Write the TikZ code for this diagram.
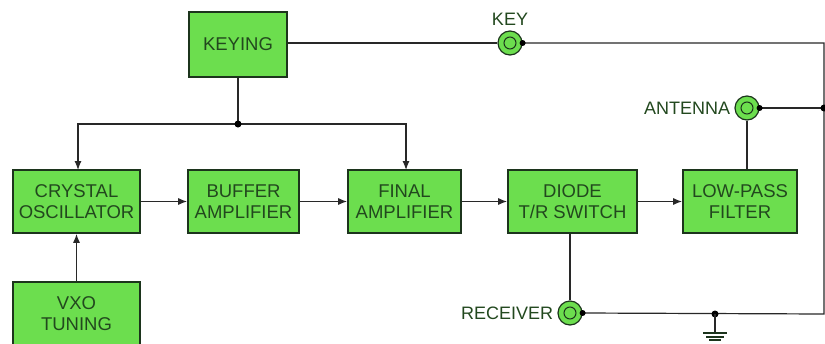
\documentclass[tikz,border=0pt]{standalone}
\usepackage{fontspec}
\setmainfont{Liberation Sans}
\usetikzlibrary{arrows.meta}
\definecolor{boxgreen}{RGB}{108,222,78}
\definecolor{edgegreen}{RGB}{28,52,28}
\definecolor{txtgreen}{RGB}{34,72,30}
\definecolor{wire}{RGB}{40,40,40}
\begin{document}
\begin{tikzpicture}[x=1pt,y=-1pt,
	bloc/.style={draw=edgegreen,line width=1.6pt,fill=boxgreen,text=txtgreen,align=center,
		font=\fontsize{18.5}{21}\selectfont,inner sep=0pt,minimum height=63pt},
	jack/.style={circle,draw=edgegreen,line width=1.2pt,fill=boxgreen,minimum size=24pt,inner sep=0pt,
		path picture={\draw[edgegreen,line width=1pt] (path picture bounding box.center) circle (6pt);}},
	lbl/.style={text=txtgreen,font=\fontsize{18}{21}\selectfont,inner sep=0pt},
	fil/.style={wire,line width=1.2pt},
	fl/.style={fil,-{Latex[length=9pt,width=7pt]}}]
	\useasboundingbox (0,0) rectangle (825,343);
	\def \xd {824}%ligne de droite
	\def \ym {314}%ligne de masse
	% blocs
	\node[bloc,minimum width=98pt,minimum height=65pt] (keying) at (238,44.5) {KEYING};
	\node[bloc,minimum width=127pt] (xtal) at (76.5,201.5) {CRYSTAL\\OSCILLATOR};
	\node[bloc,minimum width=111pt] (buffer) at (243.5,201.5) {BUFFER\\AMPLIFIER};
	\node[bloc,minimum width=113pt] (final) at (404.5,201.5) {FINAL\\AMPLIFIER};
	\node[bloc,minimum width=129pt] (diode) at (572.5,201.5) {DIODE\\T/R SWITCH};
	\node[bloc,minimum width=114pt] (lpf) at (740,201.5) {LOW-PASS\\FILTER};
	\node[bloc,minimum width=127pt] (vxo) at (76.5,313.5) {VXO\\TUNING};
	% prises
	\node[jack] (key) at (510,43) {};
	\node[jack] (ant) at (747,108) {};
	\node[jack] (recv) at (570,313) {};
	\node[lbl,above=5pt] at (key.north) {KEY};
	\node[lbl,left=4pt] at (ant.west) {ANTENNA};
	\node[lbl,left=4pt] at (recv.west) {RECEIVER};
	\coordinate (kj) at (238,124);
	\coordinate (gnd) at (715,\ym);
	% liaisons
	\draw[fl] (xtal) -- (buffer);
	\draw[fl] (buffer) -- (final);
	\draw[fl] (final) -- (diode);
	\draw[fl] (diode) -- (lpf);
	\draw[fl] (vxo) -- (xtal);
	\draw[fil] (keying) -- (kj);
	\draw[fl] (kj) -| (78,170);
	\draw[fl] (kj) -| (406,170);
	\fill[black] (kj) circle (3.5pt);
	\draw[fil] (keying.east |- key) -- (key.west);
	\draw[fil] (key.east) -- (\xd,43) -- (\xd,\ym) -- (recv.east);
	\draw[fil] (ant.east) -- (\xd,108);
	\fill[black] (\xd,108) circle (3.5pt);
	\draw[fil] (ant.south) -- (ant.south |- lpf.north);
	\draw[fil] (recv.north) -- (recv.north |- diode.south);
	\foreach \j in {key,ant,recv}{
		\fill[black] (\j.east) circle (3pt);
	}
	% masse
	\fill[black] (gnd) circle (3.5pt);
	\draw[fil] (gnd) -- (715,333);
	\draw[edgegreen,line width=2pt] (703,333) -- (727,333);
	\draw[edgegreen,line width=2pt] (706,336.5) -- (724,336.5);
	\draw[edgegreen,line width=2pt] (709,340) -- (721,340);
\end{tikzpicture}
\end{document}
